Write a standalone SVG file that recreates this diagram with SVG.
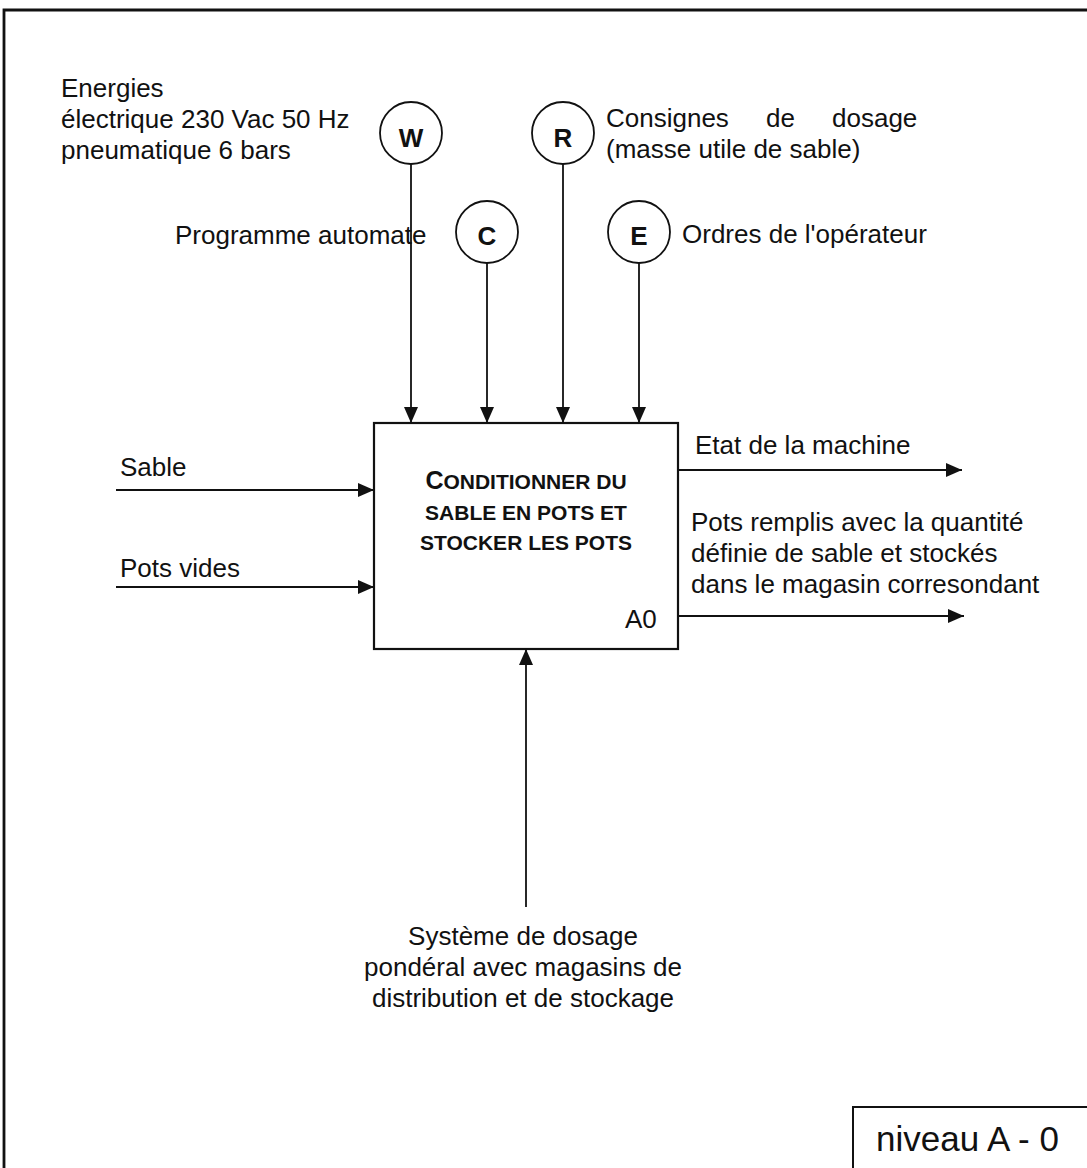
<svg xmlns="http://www.w3.org/2000/svg" width="1087" height="1168" viewBox="0 0 1087 1168">
<defs>
<style>
text{font-family:"Liberation Sans",Arial,sans-serif;fill:#111;}
.lbl{font-size:26px;}
.ctr{font-size:26px;font-weight:bold;text-anchor:middle;}
.box{fill:none;stroke:#111;stroke-width:2.2;}
.ln{stroke:#111;stroke-width:1.8;fill:none;}
.t{font-size:21px;font-weight:bold;text-anchor:middle;}
</style>
<marker id="ah" viewBox="0 0 16 14" refX="16" refY="7" markerWidth="16" markerHeight="14" markerUnits="userSpaceOnUse" orient="auto">
<path d="M0,0 L16,7 L0,14 Z" fill="#111"/>
</marker>
</defs>
<rect width="1087" height="1168" fill="#fff"/>
<g id="frame">
<path d="M4,1168 V10 H1087" fill="none" stroke="#111" stroke-width="2.8"/>
</g>
<g id="A0">
<rect class="box" x="374" y="423" width="304" height="226"/>
<text class="t" x="526" y="489"><tspan font-size="25">C</tspan>ONDITIONNER DU</text>
<text class="t" x="526" y="520">SABLE EN POTS ET</text>
<text class="t" x="526" y="550">STOCKER LES POTS</text>
<text class="lbl" x="625" y="628">A0</text>
</g>
<g id="W">
<circle class="ln" cx="411" cy="133" r="31"/>
<text class="ctr" x="411" y="147">W</text>
<text class="lbl" x="61" y="97">Energies</text>
<text class="lbl" x="61" y="128">électrique 230 Vac 50 Hz</text>
<text class="lbl" x="61" y="159">pneumatique 6 bars</text>
</g>
<g id="R">
<circle class="ln" cx="563" cy="133" r="31"/>
<text class="ctr" x="563" y="147">R</text>
<text class="lbl" y="127"><tspan x="606">Consignes</tspan><tspan x="766">de</tspan><tspan x="832">dosage</tspan></text>
<text class="lbl" x="606" y="158">(masse utile de sable)</text>
</g>
<g id="C">
<circle class="ln" cx="487" cy="232" r="31"/>
<text class="ctr" x="487" y="245">C</text>
<text class="lbl" x="175" y="244">Programme automate</text>
</g>
<g id="E">
<circle class="ln" cx="639" cy="232" r="31"/>
<text class="ctr" x="639" y="245">E</text>
<text class="lbl" x="682" y="243">Ordres de l'opérateur</text>
</g>
<g id="inputs">
<text class="lbl" x="120" y="476">Sable</text>
<text class="lbl" x="120" y="577">Pots vides</text>
</g>
<g id="outputs">
<text class="lbl" x="695" y="454">Etat de la machine</text>
<text class="lbl" x="691" y="531">Pots remplis avec la quantité</text>
<text class="lbl" x="691" y="562">définie de sable et stockés</text>
<text class="lbl" x="691" y="593">dans le magasin corresondant</text>
</g>
<g id="mechanism">
<text class="lbl" text-anchor="middle" x="523" y="945">Système de dosage</text>
<text class="lbl" text-anchor="middle" x="523" y="976">pondéral avec magasins de</text>
<text class="lbl" text-anchor="middle" x="523" y="1007">distribution et de stockage</text>
</g>
<g id="level">
<path d="M853,1168 V1107 H1087" fill="none" stroke="#111" stroke-width="2"/>
<text x="876" y="1151" font-size="35px">niveau A - 0</text>
</g>
<g id="connectors">
<line class="ln" x1="411" y1="164" x2="411" y2="423" marker-end="url(#ah)"/>
<line class="ln" x1="487" y1="263" x2="487" y2="423" marker-end="url(#ah)"/>
<line class="ln" x1="563" y1="164" x2="563" y2="423" marker-end="url(#ah)"/>
<line class="ln" x1="639" y1="263" x2="639" y2="423" marker-end="url(#ah)"/>
<line class="ln" x1="116" y1="490" x2="374" y2="490" marker-end="url(#ah)"/>
<line class="ln" x1="116" y1="587" x2="374" y2="587" marker-end="url(#ah)"/>
<line class="ln" x1="678" y1="470" x2="962" y2="470" marker-end="url(#ah)"/>
<line class="ln" x1="678" y1="616" x2="964" y2="616" marker-end="url(#ah)"/>
<line class="ln" x1="526" y1="907" x2="526" y2="649" marker-end="url(#ah)"/>
</g>
</svg>
